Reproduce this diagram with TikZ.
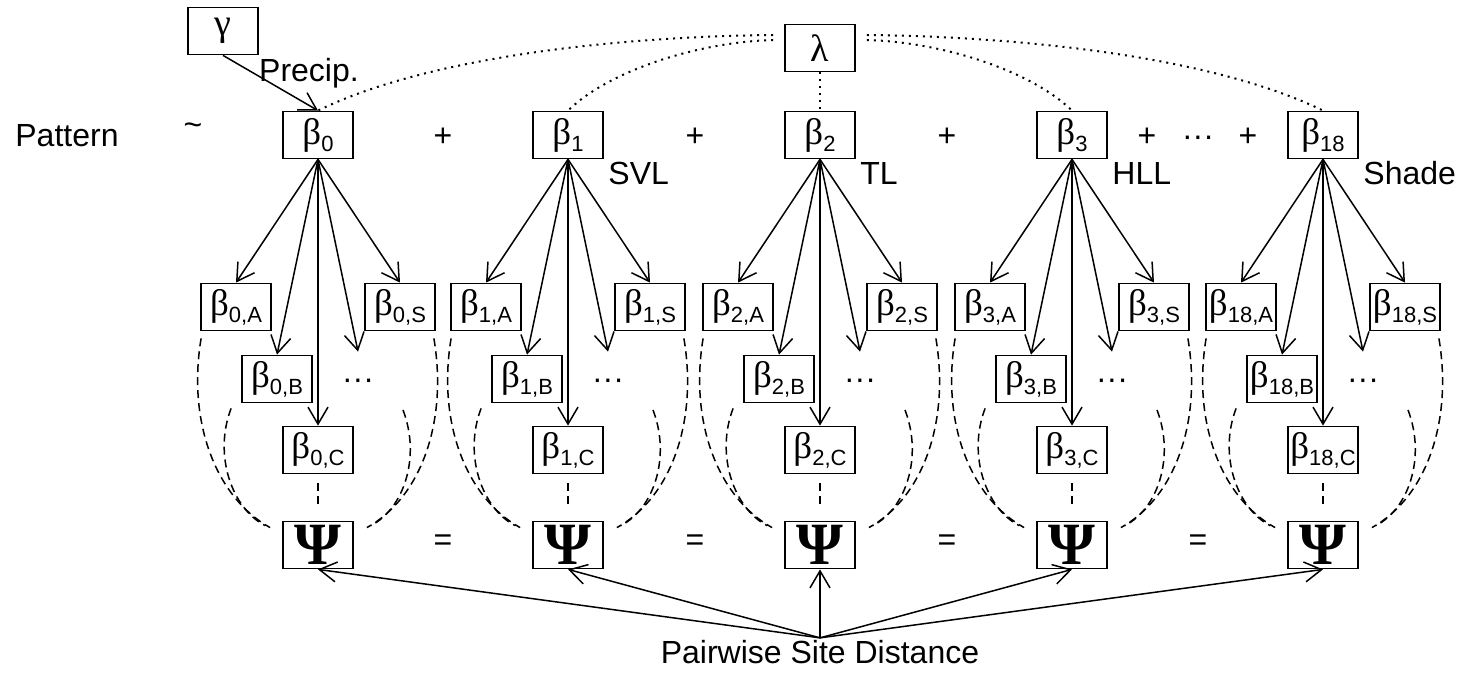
\documentclass[tikz,border=0pt]{standalone}
\usepackage{fontspec}
\setmainfont{Liberation Sans}
\newfontfamily\grk{Liberation Serif}
\usetikzlibrary{arrows.meta}
\newcommand{\bt}[1]{{\grk\fontsize{18.5}{18}\selectfont β}\raisebox{-3.5pt}{\fontsize{11}{11}\selectfont #1}}
\newcommand{\gk}[1]{{\grk\fontsize{19}{19}\selectfont #1}}
\begin{document}
\begin{tikzpicture}[x=0.5pt,y=0.5pt,
  box/.style={draw, line width=0.9pt, minimum width=35pt, minimum height=23.5pt, inner sep=0pt},
  arr/.style={line width=0.75pt, -{Straight Barb[length=8.5pt,width=10pt,line width=0.75pt]}},
  dotl/.style={line width=1pt, dash pattern=on 1pt off 2.5pt},
  dashl/.style={line width=0.75pt, dash pattern=on 4pt off 2.5pt},
  lbl/.style={font=\fontsize{16}{19}\selectfont, inner sep=0pt},
  psi/.style={box, font=\grk\bfseries\fontsize{30}{30}\selectfont}]
\useasboundingbox (0,0) rectangle (1460,-673);

% top row text
\node[lbl, anchor=base west] (pat) at (15,-147) {Pattern};
\node[lbl] (tl) at (193,-129) {\textasciitilde};
\node[lbl, anchor=base] (pl1) at (443,-147) {+};
\node[lbl, anchor=base] (pl2) at (695,-147) {+};
\node[lbl, anchor=base] (pl3) at (947,-147) {+};
\node[lbl, anchor=base] (pl4) at (1147,-147) {+};
\node[lbl, anchor=base] (dd) at (1198,-147) {···};
\node[lbl, anchor=base] (pl5) at (1248,-147) {+};

% equals
\node[lbl] (eq1) at (443,-543) {=};
\node[lbl] (eq2) at (695,-543) {=};
\node[lbl] (eq3) at (947,-543) {=};
\node[lbl] (eq4) at (1198,-543) {=};

% gamma, lambda
\node[box] (g) at (223,-31) {\gk{γ}};
\node[box] (l) at (820,-48) {\gk{λ}};
\node[lbl] (prec) at (309,-73) {Precip.};

\node[lbl, inner sep=1pt] (psd) at (820,-652) {Pairwise Site Distance};

\foreach \i/\cx in {0/318,1/568,2/820,3/1072,18/1323} {
  \node[box] (t\i) at (\cx,-135) {\bt{\i}};
  \node[box] (a\i) at (\cx-82,-307) {\bt{\i,A}};
  \node[box] (s\i) at (\cx+82,-307) {\bt{\i,S}};
  \node[box] (b\i) at (\cx-41,-379) {\bt{\i,B}};
  \node[box] (c\i) at (\cx,-450) {\bt{\i,C}};
  \node[lbl, anchor=base, text height=18.5pt, text depth=0pt] (d\i) at (\cx+40,-389) {···};
  \node[psi] (p\i) at (\cx,-545) {Ψ};
  \draw[arr] (t\i.south) -- (a\i.north);
  \draw[arr] (t\i.south) -- (b\i.north);
  \draw[arr] (t\i.south) -- (c\i.north);
  \draw[arr] (t\i.south) -- (d\i.north);
  \draw[arr] (t\i.south) -- (s\i.north);
  \draw[dashl] ([shift={(1,-7)}]a\i.south west) .. controls +(-14,-84) and +(-54,30) .. ([shift={(-12,-7)}]p\i.north west);
  \draw[dashl] ([shift={(-10,-5)}]b\i.south west) .. controls +(-18,-47) and +(-33,17) .. ([shift={(-17,-5)}]p\i.north west);
  \draw[dashl] ([shift={(-2,-7)}]s\i.south east) .. controls +(14,-84) and +(54,30) .. ([shift={(13,-7)}]p\i.north east);
  \draw[dashl] ([shift={(45,-21)}]d\i.base) .. controls +(18,-47) and +(33,17) .. ([shift={(17,-5)}]p\i.north east);
  \draw[dashl, shorten <=4.5pt, shorten >=7.5pt] (c\i.south) -- (p\i.north);
  \draw[arr] (psd.north) -- (p\i.south);
}

% column labels
\node[lbl, anchor=west] (svl) at (608,-173) {SVL};
\node[lbl, anchor=west] (tll) at (860,-173) {TL};
\node[lbl, anchor=west] (hll) at (1112,-173) {HLL};
\node[lbl, anchor=west] (shd) at (1363,-173) {Shade};

% gamma arrow
\draw[arr] (g.south) -- (t0.north);

% lambda dotted links
\draw[dotl] ([shift={(-11,13)}]l.west) .. controls +(-175,-2) and +(102,50) .. (t0.north);
\draw[dotl] ([shift={(-11,8)}]l.west) .. controls +(-75,-2) and +(41,40) .. (t1.north);
\draw[dotl] (l.south) -- (t2.north);
\draw[dotl] ([shift={(11,8)}]l.east) .. controls +(75,-2) and +(-41,40) .. (t3.north);
\draw[dotl] ([shift={(11,13)}]l.east) .. controls +(175,-2) and +(-102,50) .. (t18.north);
\end{tikzpicture}
\end{document}
